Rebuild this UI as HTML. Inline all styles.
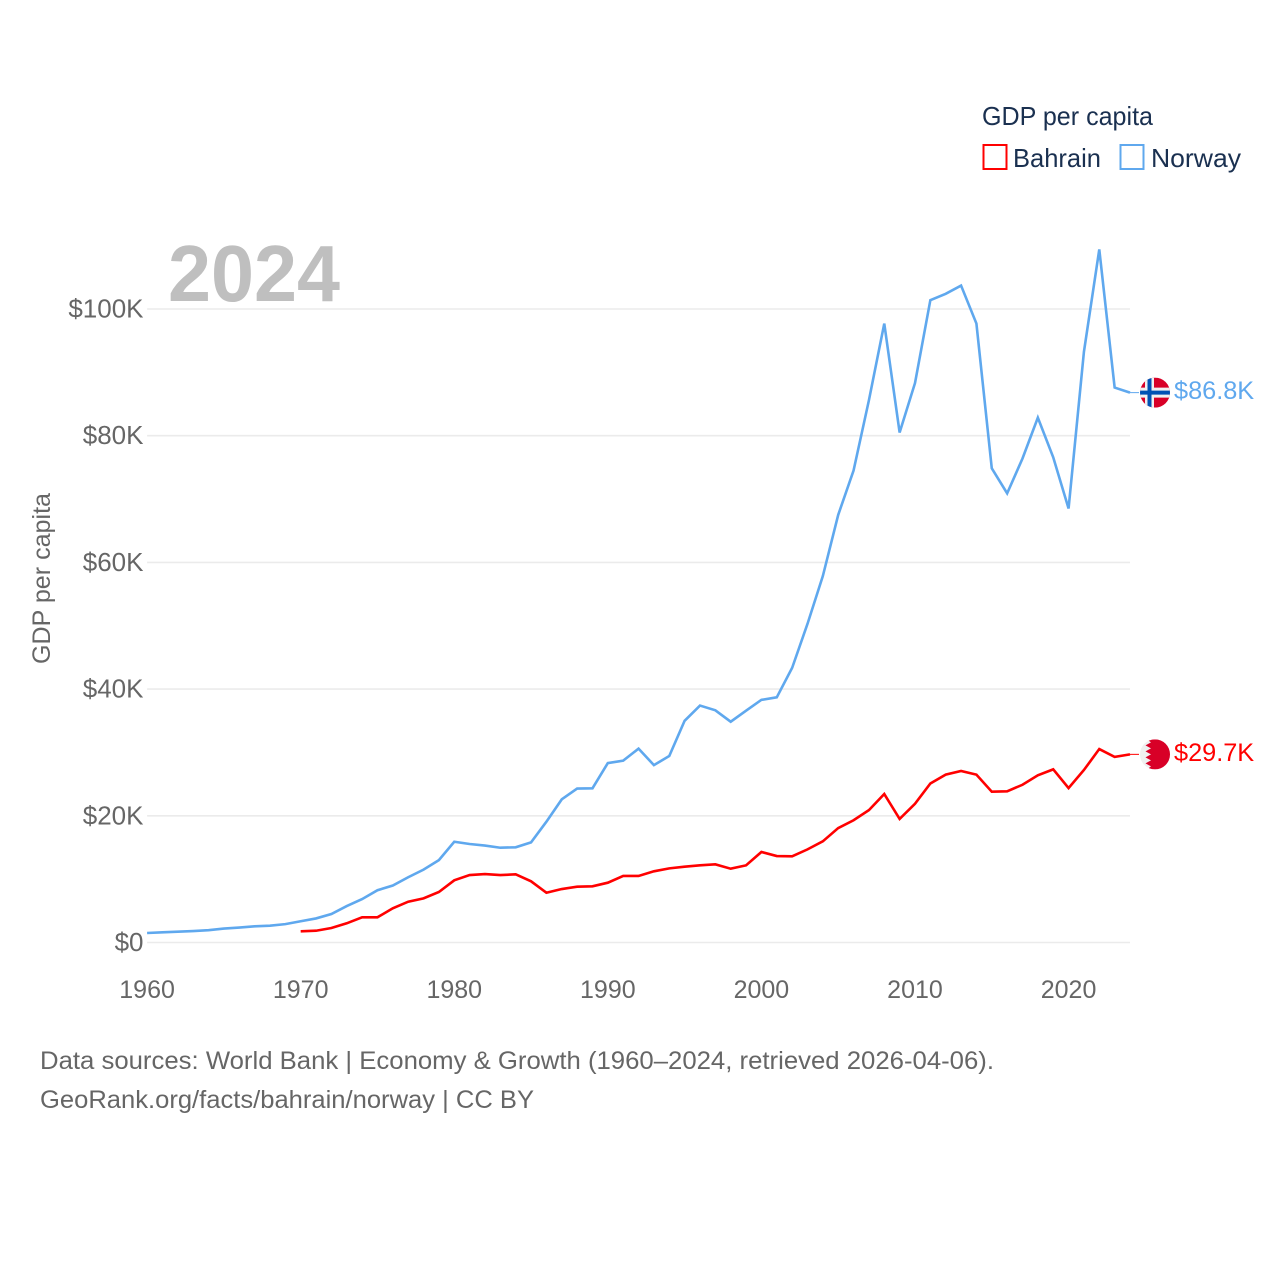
<!DOCTYPE html>
<html lang="en">
<head>
<meta charset="utf-8">
<title>GDP per capita: Bahrain and Norway</title>
<style>
html,body{margin:0;padding:0;background:#fff;}
svg{display:block;font-family:"Liberation Sans",sans-serif;}
</style>
</head>
<body>
<svg id="chart" xmlns="http://www.w3.org/2000/svg" width="1280" height="1280" viewBox="0 0 1280 1280">
  <defs>
    <clipPath id="flag-clip"><circle cx="0" cy="0" r="15"></circle></clipPath>
  </defs>
  <rect x="0" y="0" width="1280" height="1280" fill="#ffffff"></rect>
  <g id="grid"></g>
  <g id="y-ticks"></g>
  <g id="x-ticks"></g>
  <text transform="translate(50,664) rotate(-90)" font-size="25" fill="#666666" textLength="171" lengthAdjust="spacingAndGlyphs">GDP per capita</text>
  <text x="168" y="301" font-size="80" font-weight="700" fill="#bfbfbf" textLength="172" lengthAdjust="spacingAndGlyphs">2024</text>
  <g id="series"></g>

  <g>
    <text x="982" y="125" font-size="26" fill="#1a3050" textLength="171" lengthAdjust="spacingAndGlyphs">GDP per capita</text>
    <g>
      <rect x="983.5" y="145" width="23" height="24" fill="#ffffff" stroke="#ff0000" stroke-width="2"></rect>
      <text x="1013" y="167" font-size="26" fill="#1a3050" textLength="88" lengthAdjust="spacingAndGlyphs">Bahrain</text>
    </g>
    <g>
      <rect x="1120.5" y="145" width="23" height="24" fill="#ffffff" stroke="#5fa8ee" stroke-width="2"></rect>
      <text x="1151" y="167" font-size="26" fill="#1a3050" textLength="90" lengthAdjust="spacingAndGlyphs">Norway</text>
    </g>
  </g>

  <g id="flag-norway">
    <g clip-path="url(#flag-clip)">
      <rect x="-15" y="-15" width="30" height="30" fill="#d80027"></rect>
      <rect x="-10" y="-15" width="9" height="30" fill="#f0f0f0"></rect>
      <rect x="-15" y="-5" width="30" height="10" fill="#f0f0f0"></rect>
      <rect x="-7.5" y="-15" width="4" height="30" fill="#0052b4"></rect>
      <rect x="-15" y="-2" width="30" height="4" fill="#0052b4"></rect>
    </g>
  </g>
  <g id="flag-bahrain">
    <g clip-path="url(#flag-clip)">
      <rect x="-15" y="-15" width="30" height="30" fill="#f0f0f0"></rect>
      <polygon fill="#d80027" points="-8,-15 15,-15 15,15 -8,15 -4,12 -9.5,9 -4,6 -9.5,3 -4,0 -9.5,-3 -4,-6 -9.5,-9 -4,-12"></polygon>
    </g>
  </g>

  <g>
    <text x="40" y="1069" font-size="25" fill="#666666" textLength="954" lengthAdjust="spacingAndGlyphs">Data sources: World Bank | Economy &amp; Growth (1960–2024, retrieved 2026-04-06).</text>
    <text x="40" y="1108" font-size="25" fill="#666666" textLength="494" lengthAdjust="spacingAndGlyphs">GeoRank.org/facts/bahrain/norway | CC BY</text>
  </g>
</svg>

<script>
const norwayStartYear = 1960;
const bahrainStartYear = 1970;
const yTickValues = [0, 20, 40, 60, 80, 100];
const yTickLabels = ["$0", "$20K", "$40K", "$60K", "$80K", "$100K"];
const xTickValues = [1960, 1970, 1980, 1990, 2000, 2010, 2020];
const xTickLabels = ["1960", "1970", "1980", "1990", "2000", "2010", "2020"];
const norwayValues = [
  1.5, 1.6, 1.7, 1.8, 1.95, 2.2, 2.35, 2.55, 2.65, 2.9,
  3.35, 3.8, 4.5, 5.75, 6.85, 8.25, 9.0, 10.3, 11.5, 13.0,
  15.9, 15.55, 15.3, 14.96, 15.03, 15.8, 19.07, 22.6, 24.3, 24.34,
  28.33, 28.7, 30.6, 28.0, 29.44, 35.0, 37.4, 36.65, 34.85, 36.6,
  38.3, 38.7, 43.35, 50.3, 57.85, 67.5, 74.5, 85.6, 97.7, 80.5,
  88.3, 101.4, 102.4, 103.7, 97.7, 74.85, 70.9, 76.4, 82.85, 76.6,
  68.5, 93.25, 109.4, 87.6, 86.8
];
const bahrainValues = [
  1.77, 1.86, 2.29, 3.03, 3.98, 3.98, 5.4, 6.44, 6.97, 7.97,
  9.82, 10.65, 10.8, 10.65, 10.76, 9.66, 7.86, 8.44, 8.81, 8.87,
  9.44, 10.5, 10.5, 11.24, 11.7, 11.97, 12.18, 12.34, 11.65, 12.18,
  14.29, 13.65, 13.6, 14.7, 15.97, 18.07, 19.3, 20.9, 23.44, 19.5,
  21.9, 25.1, 26.5, 27.07, 26.5, 23.8, 23.87, 24.9, 26.4, 27.33,
  24.38, 27.23, 30.54, 29.3, 29.7
];

const NS = "http://www.w3.org/2000/svg";
const lastYear = 2024;
function xScale(year) { return 147.1 + (year - 1960) * (1130 - 147.1) / (lastYear - 1960); }
function yScale(k) { return 942.5 - k * 6.335; }
function make(tag, attrs, parent) {
  const el = document.createElementNS(NS, tag);
  Object.keys(attrs).forEach(function (k) { el.setAttribute(k, attrs[k]); });
  parent.appendChild(el);
  return el;
}

const grid = document.getElementById("grid");
const yTicks = document.getElementById("y-ticks");
yTickValues.forEach(function (v, i) {
  const line = make("line", { x1: xScale(1960), x2: xScale(lastYear), y1: yScale(v), y2: yScale(v), stroke: "#ebebeb", "stroke-width": 1.6 }, grid);
  
  
  const t = make("text", { x: 143.5, y: yScale(v) + 8.5, "text-anchor": "end", "font-size": 26, fill: "#666666" }, yTicks);
  t.textContent = yTickLabels[i];
  
  
});

const xTicks = document.getElementById("x-ticks");
xTickValues.forEach(function (v, i) {
  const t = make("text", { x: xScale(v), y: 998, "text-anchor": "middle", "font-size": 25, fill: "#666666" }, xTicks);
  t.textContent = xTickLabels[i];
  
  
});

const seriesGroup = document.getElementById("series");
function drawSeries(values, startYear, color, flagId) {
  const pts = values.map(function (v, i) { return xScale(startYear + i).toFixed(2) + "," + yScale(v).toFixed(2); }).join(" ");
  const line = make("polyline", { points: pts, fill: "none", stroke: color, "stroke-width": 2.6, "stroke-linejoin": "miter" }, seriesGroup);
  
  
  const last = values[values.length - 1];
  const endX = xScale(startYear + values.length - 1);
  const endY = yScale(last);
  const conn = make("line", { x1: endX, x2: endX + 9, y1: endY, y2: endY, stroke: color, "stroke-width": 1 }, seriesGroup);
  
  
  const label = make("text", { x: endX + 44, y: endY + 6.5, "font-size": 25.3, fill: color }, seriesGroup);
  label.textContent = "$" + last.toFixed(1) + "K";
  
  
  document.getElementById(flagId).setAttribute("transform", "translate(" + (endX + 25) + "," + endY + ")");
}
drawSeries(bahrainValues, bahrainStartYear, "#ff0000", "flag-bahrain");
drawSeries(norwayValues, norwayStartYear, "#5fa8ee", "flag-norway");
</script>
</body>
</html>
